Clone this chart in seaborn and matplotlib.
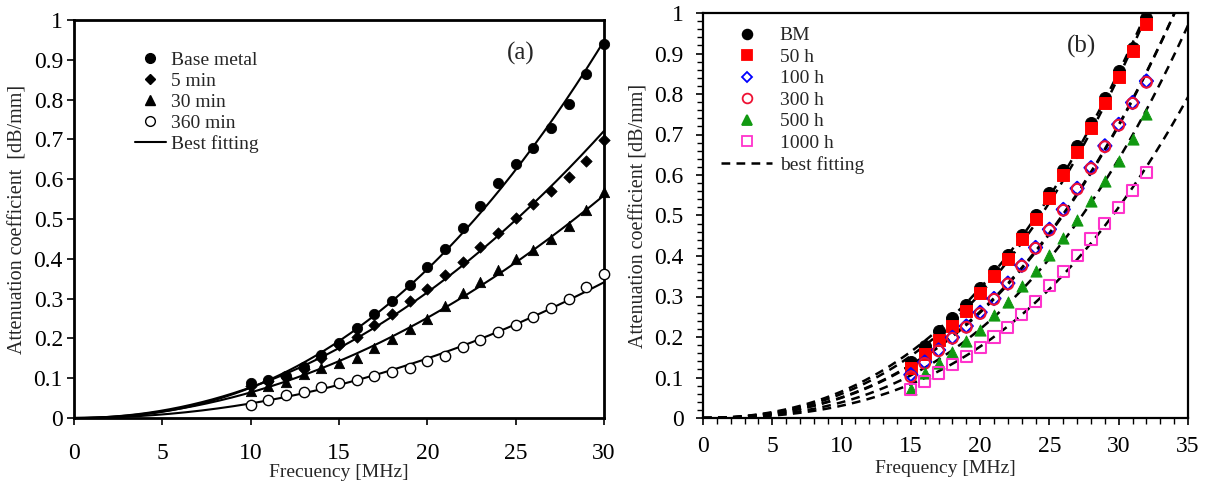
import numpy as np
import pandas as pd
import matplotlib
matplotlib.use("Agg")
import matplotlib.pyplot as plt
import seaborn as sns
from matplotlib.lines import Line2D
from matplotlib.ticker import MultipleLocator, FuncFormatter

# ---------------- data: panel (a) ----------------
freq_a = [10, 11, 12, 13, 14, 15, 16, 17, 18, 19, 20, 21, 22, 23, 24, 25, 26, 27, 28, 29, 30]
base_metal = [0.087, 0.095, 0.106, 0.129, 0.158, 0.188, 0.225, 0.261, 0.295, 0.334, 0.380,
              0.424, 0.477, 0.533, 0.591, 0.638, 0.678, 0.728, 0.789, 0.864, 0.939]
min_5 = [0.080, 0.092, 0.103, 0.122, 0.150, 0.183, 0.204, 0.234, 0.261, 0.295, 0.324,
         0.359, 0.393, 0.430, 0.464, 0.502, 0.538, 0.570, 0.606, 0.646, 0.698]
min_30 = [0.068, 0.080, 0.090, 0.110, 0.125, 0.137, 0.152, 0.175, 0.198, 0.223, 0.250,
          0.281, 0.315, 0.342, 0.372, 0.399, 0.422, 0.449, 0.482, 0.523, 0.569]
min_360 = [0.033, 0.045, 0.058, 0.066, 0.077, 0.087, 0.095, 0.106, 0.115, 0.126, 0.143,
           0.156, 0.178, 0.196, 0.217, 0.234, 0.255, 0.276, 0.299, 0.330, 0.361]
labels_a = ["Base metal", "5 min", "30 min", "360 min"]
fit_label_a = "Best fitting"

# ---------------- data: panel (b) ----------------
freq_b = [15, 16, 17, 18, 19, 20, 21, 22, 23, 24, 25, 26, 27, 28, 29, 30, 31, 32]
bm = [0.138, 0.177, 0.214, 0.247, 0.280, 0.321, 0.362, 0.403, 0.451, 0.502, 0.556, 0.613,
      0.671, 0.728, 0.790, 0.856, 0.914, 0.988]
h50 = [0.123, 0.159, 0.193, 0.226, 0.263, 0.309, 0.350, 0.393, 0.443, 0.492, 0.543, 0.601,
       0.658, 0.716, 0.778, 0.843, 0.905, 0.973]
h100 = [0.107, 0.138, 0.168, 0.199, 0.227, 0.261, 0.295, 0.333, 0.377, 0.421, 0.466, 0.515,
        0.567, 0.618, 0.672, 0.725, 0.779, 0.832]
h300 = [0.102, 0.135, 0.166, 0.197, 0.224, 0.258, 0.293, 0.331, 0.375, 0.419, 0.464, 0.513,
        0.565, 0.616, 0.670, 0.723, 0.777, 0.829]
h500 = [0.072, 0.111, 0.136, 0.164, 0.191, 0.218, 0.254, 0.286, 0.327, 0.364, 0.403, 0.444,
        0.490, 0.537, 0.586, 0.635, 0.690, 0.751]
h1000 = [0.070, 0.090, 0.111, 0.132, 0.152, 0.174, 0.200, 0.223, 0.255, 0.288, 0.327, 0.362,
         0.401, 0.442, 0.480, 0.520, 0.561, 0.607]
labels_b = ["BM", "50 h", "100 h", "300 h", "500 h", "1000 h"]
fit_label_b = "best fitting"

# ---------------- style ----------------
sns.set_style("ticks")
plt.rcParams["font.family"] = ["Liberation Serif", "DejaVu Serif"]
FS = 14      # axis labels / legend
TFS = 17     # tick labels

fig = plt.figure(figsize=(12.07, 4.83), dpi=100)
ax_a = fig.add_axes([74 / 1207, 65 / 483, 530 / 1207, 398 / 483])
ax_b = fig.add_axes([703 / 1207, 65 / 483, 485 / 1207, 405 / 483])


def power_fit(x, y, xs):
    p = np.polyfit(np.log(x), np.log(y), 1)
    return np.exp(p[1]) * np.power(xs, p[0])


def cubic_fit(x, y, xs):
    x = np.asarray(x, float)
    A = np.column_stack([x ** 2, x ** 3])
    c, *_ = np.linalg.lstsq(A, np.asarray(y, float), rcond=None)
    return c[0] * xs ** 2 + c[1] * xs ** 3


fmt = FuncFormatter(lambda v, pos: "%g" % round(v, 2))

# ---------------- panel (a) ----------------
series_a = [base_metal, min_5, min_30, min_360]
mk_a = [dict(marker="o", s=55, color="black", edgecolor="black"),
        dict(marker="D", s=34, color="black", edgecolor="black"),
        dict(marker="^", s=55, color="black", edgecolor="black"),
        dict(marker="o", s=55, color="white", edgecolor="black", linewidth=1.0)]
xs_a = np.linspace(0.001, 30, 300)
for vals in series_a:
    df = pd.DataFrame({"f": xs_a, "a": power_fit(freq_a, vals, xs_a)})
    sns.lineplot(data=df, x="f", y="a", ax=ax_a, color="black", lw=1.5, zorder=2)
for vals, lab, mk in zip(series_a, labels_a, mk_a):
    df = pd.DataFrame({"f": freq_a, "a": vals})
    sns.scatterplot(data=df, x="f", y="a", ax=ax_a, zorder=3, clip_on=False, **mk)

ax_a.set_xlim(0, 30)
ax_a.set_ylim(0, 1)
ax_a.xaxis.set_major_locator(MultipleLocator(5))
ax_a.yaxis.set_major_locator(MultipleLocator(0.1))
ax_a.yaxis.set_major_formatter(fmt)
ax_a.set_xlabel("Frecuency [MHz]", fontsize=FS, labelpad=0)
ax_a.set_ylabel("Attenuation coefficient  [dB/mm]", fontsize=FS + 0.5, labelpad=4)
ax_a.tick_params(axis="both", direction="out", length=5, width=1.2, labelsize=TFS,
                 colors="black")
ax_a.tick_params(axis="x", pad=13)
ax_a.tick_params(axis="y", pad=3)
for sp in ax_a.spines.values():
    sp.set_visible(True)
    sp.set_linewidth(2.0)
    sp.set_color("black")
ax_a.text(25.3, 0.915, "(a)", fontsize=18, ha="center", va="center")

h_a = [Line2D([], [], linestyle="none", marker=m["marker"], markersize=7 if m["marker"] != "D" else 5.5,
              markerfacecolor=m["color"], markeredgecolor="black") for m in mk_a]
h_a.append(Line2D([], [], color="black", lw=1.5))
ax_a.legend(h_a, labels_a + [fit_label_a], loc="upper left", bbox_to_anchor=(0.1, 0.94),
            frameon=False, fontsize=FS, handlelength=1.6, handletextpad=0.25,
            labelspacing=0.17, borderaxespad=0)

# ---------------- panel (b) ----------------
series_b = [bm, h50, h100, h300, h500, h1000]
mk_b = [dict(marker="o", s=75, color="black", edgecolor="black"),
        dict(marker="s", s=70, color="#ff0000", edgecolor="#ff0000"),
        dict(marker="D", s=45, facecolor="none", edgecolor="#0000ff", linewidth=1.5),
        dict(marker="o", s=60, facecolor="none", edgecolor="#ee1133", linewidth=1.5),
        dict(marker="^", s=65, color="#119911", edgecolor="#119911"),
        dict(marker="s", s=65, facecolor="none", edgecolor="#ff33cc", linewidth=1.5)]
xs_b = np.linspace(0.001, 35, 300)
for vals in series_b:
    df = pd.DataFrame({"f": xs_b, "a": cubic_fit(freq_b, vals, xs_b)})
    sns.lineplot(data=df, x="f", y="a", ax=ax_b, color="black", lw=1.8, zorder=2,
                 dashes=False, linestyle=(0, (3.5, 2.5)))
for vals, lab, mk in zip(series_b, labels_b, mk_b):
    df = pd.DataFrame({"f": freq_b, "a": vals})
    sns.scatterplot(data=df, x="f", y="a", ax=ax_b, zorder=3, **mk)

ax_b.set_xlim(0, 35)
ax_b.set_ylim(0, 1)
ax_b.xaxis.set_major_locator(MultipleLocator(5))
ax_b.xaxis.set_minor_locator(MultipleLocator(1))
ax_b.yaxis.set_major_locator(MultipleLocator(0.1))
ax_b.yaxis.set_minor_locator(MultipleLocator(0.02))
ax_b.yaxis.set_major_formatter(fmt)
ax_b.set_xlabel("Frequency [MHz]", fontsize=FS, labelpad=2)
ax_b.set_ylabel("Attenuation coefficient [dB/mm]", fontsize=FS + 0.5, labelpad=4)
ax_b.tick_params(axis="both", which="major", direction="out", length=5, width=1.2,
                 labelsize=TFS, colors="black")
ax_b.tick_params(axis="both", which="minor", direction="out", length=4, width=1.0,
                 colors="black")
ax_b.tick_params(axis="x", which="major", pad=8)
ax_b.tick_params(axis="y", which="major", pad=9)
for sp in ax_b.spines.values():
    sp.set_visible(True)
    sp.set_linewidth(1.6)
    sp.set_color("black")
ax_b.text(27.3, 0.917, "(b)", fontsize=18, ha="center", va="center")

h_b = []
for m in mk_b:
    fc = m.get("color", m.get("facecolor"))
    ec = m.get("edgecolor")
    ms = {"o": 7, "s": 7, "D": 5.5, "^": 7}[m["marker"]]
    h_b.append(Line2D([], [], linestyle="none", marker=m["marker"], markersize=ms,
                      markerfacecolor=fc, markeredgecolor=ec, markeredgewidth=1.3))
h_b.append(Line2D([], [], color="black", lw=1.8, linestyle=(0, (3.5, 2.5))))
ax_b.legend(h_b, labels_b + [fit_label_b], loc="upper left", bbox_to_anchor=(0.022, 0.985),
            frameon=False, fontsize=FS, handlelength=2.6, handletextpad=0.4,
            labelspacing=0.2, borderaxespad=0)

fig.savefig("out.png", dpi=100)
